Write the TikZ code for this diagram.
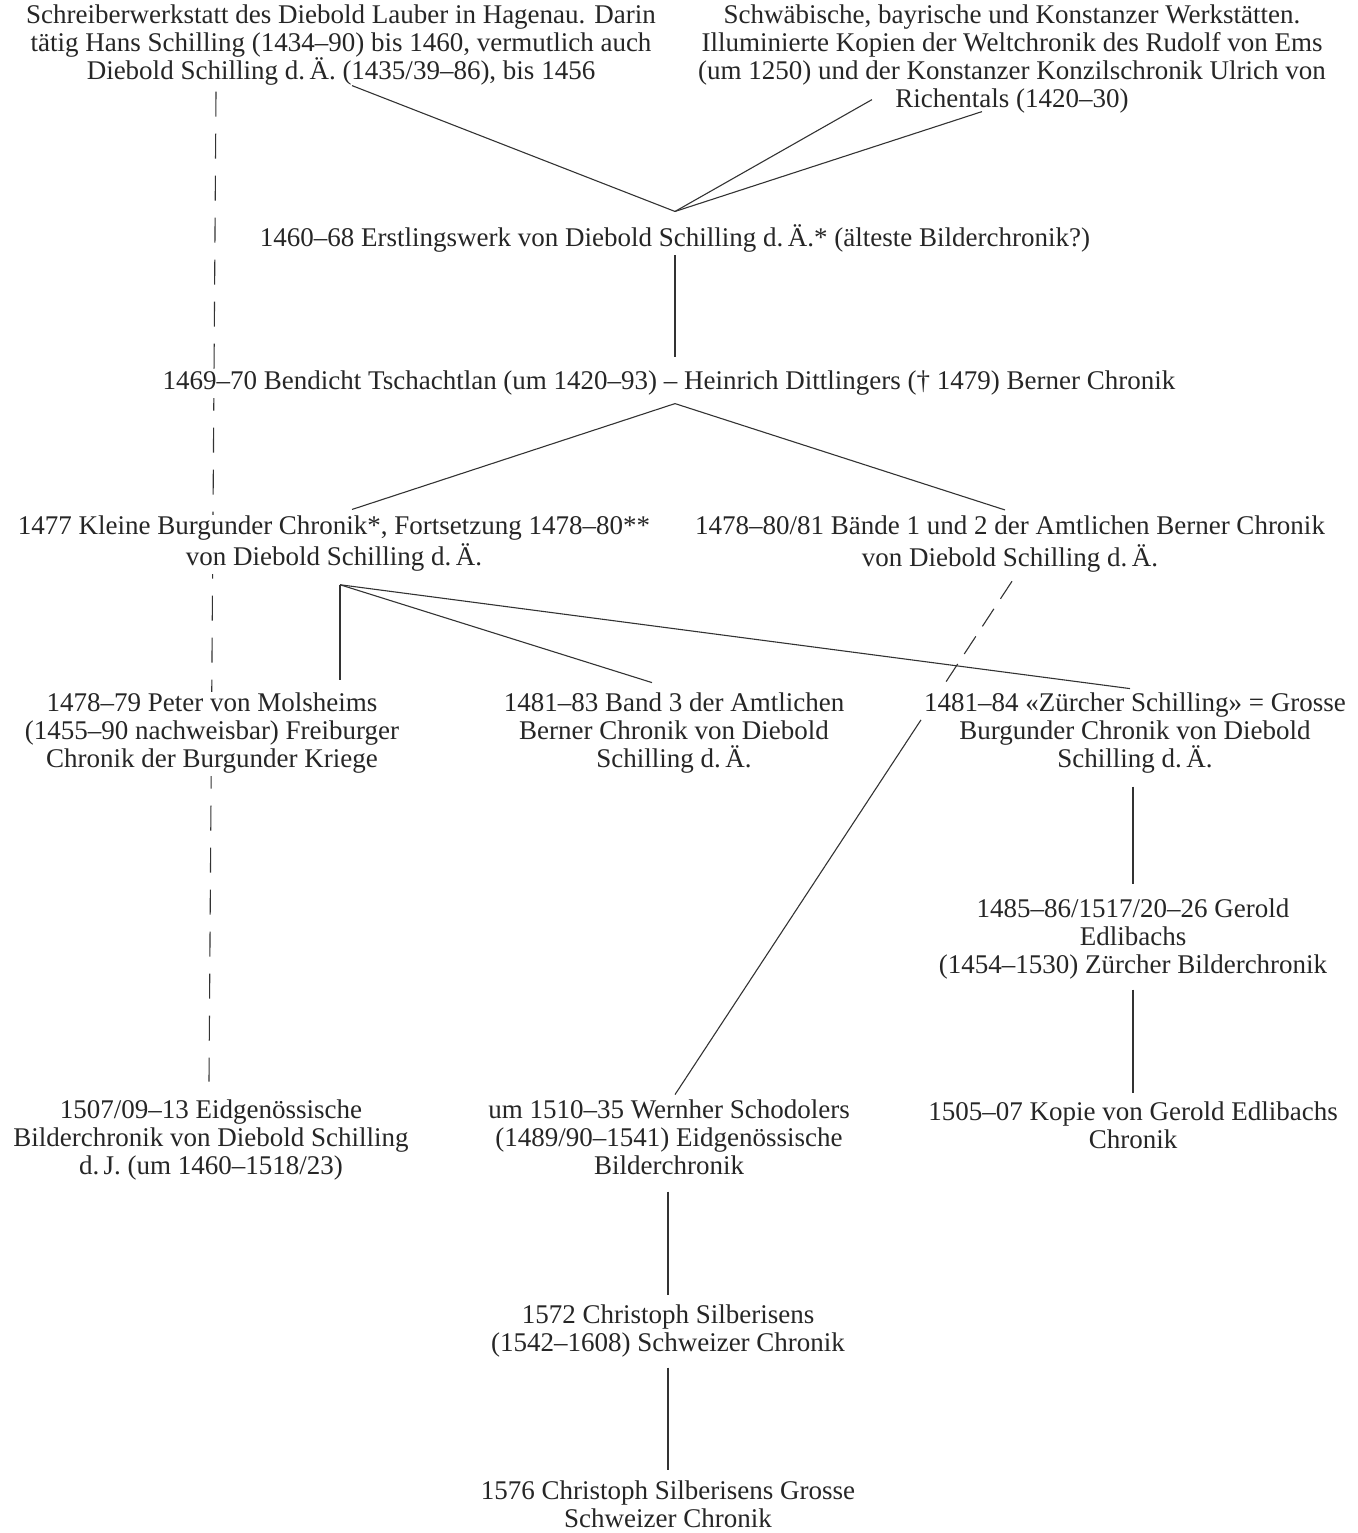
\documentclass[tikz,border=0pt]{standalone}
\usepackage{fontspec}
\setmainfont{Liberation Serif}
\usetikzlibrary{backgrounds,calc}
\begin{document}
\begin{tikzpicture}[x=1pt,y=-1pt,
  txt/.style={align=center, inner sep=0pt, outer sep=0pt, fill=white, text=black!85,
    font=\fontsize{27}{28}\selectfont},
  link/.style={line width=1.1pt, draw=black!80},
  longdash/.style={link, dash pattern=on 25pt off 17pt},
  shortdash/.style={link, dash pattern=on 21pt off 12pt}]
\useasboundingbox (0,0) rectangle (1357,1533);

\node[txt] (A) at (341,46) {\strut Schreiberwerkstatt des Diebold Lauber in Hagenau. Darin\\tätig Hans Schilling (1434–90) bis 1460, vermutlich auch\\Diebold Schilling d.\,Ä. (1435/39–86), bis 1456\strut};
\node[txt] (B) at (1012,60) {\strut Schwäbische, bayrische und Konstanzer Werkstätten.\\Illuminierte Kopien der Weltchronik des Rudolf von Ems\\(um 1250) und der Konstanzer Konzilschronik Ulrich von\\Richentals (1420–30)\strut};
\node[txt] (C) at (675,240) {\strut 1460–68 Erstlingswerk von Diebold Schilling d.\,Ä.* (älteste Bilderchronik?)\strut};
\node[txt] (D) at (669,384) {\strut 1469–70 Bendicht Tschachtlan (um 1420–93) – Heinrich Dittlingers († 1479) Berner Chronik\strut};
\node[txt] (E) at (334,544.5) {\strut 1477 Kleine Burgunder Chronik*, Fortsetzung 1478–80**\\von Diebold Schilling d.\,Ä.\strut};
\node[txt] (F) at (1010,545) {\strut 1478–80/81 Bände 1 und 2 der Amtlichen Berner Chronik\\von Diebold Schilling d.\,Ä.\strut};
\node[txt] (G) at (212,734) {\strut 1478–79 Peter von Molsheims\\(1455–90 nachweisbar) Freiburger\\Chronik der Burgunder Kriege\strut};
\node[txt] (H) at (674,734) {\strut 1481–83 Band 3 der Amtlichen\\Berner Chronik von Diebold\\Schilling d.\,Ä.\strut};
\node[txt] (I) at (1135,734) {\strut 1481–84 «Zürcher Schilling» = Grosse\\Burgunder Chronik von Diebold\\Schilling d.\,Ä.\strut};
\node[txt] (J) at (1133,940) {\strut 1485–86/1517/20–26 Gerold\\Edlibachs\\(1454–1530) Zürcher Bilderchronik\strut};
\node[txt] (K) at (1133,1129) {\strut 1505–07 Kopie von Gerold Edlibachs\\Chronik\strut};
\node[txt] (L) at (211,1141) {\strut 1507/09–13 Eidgenössische\\Bilderchronik von Diebold Schilling\\d.\,J. (um 1460–1518/23)\strut};
\node[txt] (M) at (669,1141) {\strut um 1510–35 Wernher Schodolers\\(1489/90–1541) Eidgenössische\\Bilderchronik\strut};
\node[txt] (N) at (668,1332) {\strut 1572 Christoph Silberisens\\(1542–1608) Schweizer Chronik\strut};
\node[txt] (O) at (668,1508) {\strut 1576 Christoph Silberisens Grosse\\Schweizer Chronik\strut};

\begin{pgfonlayer}{background}
\draw[longdash] ($(A.south)+(-125,3.6)$) -- ($(L.north)+(-2,-17.4)$);
\end{pgfonlayer}

% top level to C
\coordinate (Ct) at ($(C.north)+(0,-13.4)$);
\draw[link] ($(A.south)+(11,-2.4)$) -- (Ct);
\draw[link] ($(B.south)+(-140,-16.4)$) -- (Ct);
\draw[link] ($(B.south)+(-30,-4.4)$) -- (Ct);
% C to D
\draw[link] (C.south) -- ($(D.north)+(6,-13.4)$);
% D to E, F
\coordinate (Db) at ($(D.south)+(6,5.6)$);
\draw[link] (Db) -- ($(E.north)+(18,-5.4)$);
\draw[link] (Db) -- ($(F.north)+(-5,-5.4)$);
% E to G, H, I
\coordinate (Eb) at ($(E.south)+(6,10.6)$);
\draw[link] (Eb) -- ($(G.north)+(128,-12.4)$);
\draw[link] (Eb) -- ($(H.north)+(-22,-9.4)$);
\draw[link] (Eb) -- ($(I.north)+(-5,-3.4)$);
% F to M (dashed, then solid)
\coordinate (Fs) at ($(F.south)+(2,6.6)$);
\coordinate (Me) at ($(M.north)+(6,-4.4)$);
\draw[shortdash] (Fs) -- ($(Fs)!0.21!(Me)$);
\draw[link] ($(Fs)!0.27!(Me)$) -- (Me);
% I to J to K
\draw[link] ($(I.south)+(-2,10.6)$) -- ($(J.north)+(0,-14.4)$);
\draw[link] ($(J.south)+(0,7.6)$) -- ($(K.north)+(0,-8.4)$);
% M to N to O
\draw[link] ($(M.south)+(-1,8.6)$) -- ($(N.north)+(0,-9.4)$);
\draw[link] ($(N.south)+(0,7.6)$) -- ($(O.north)+(0,-10.4)$);
\end{tikzpicture}
\end{document}
